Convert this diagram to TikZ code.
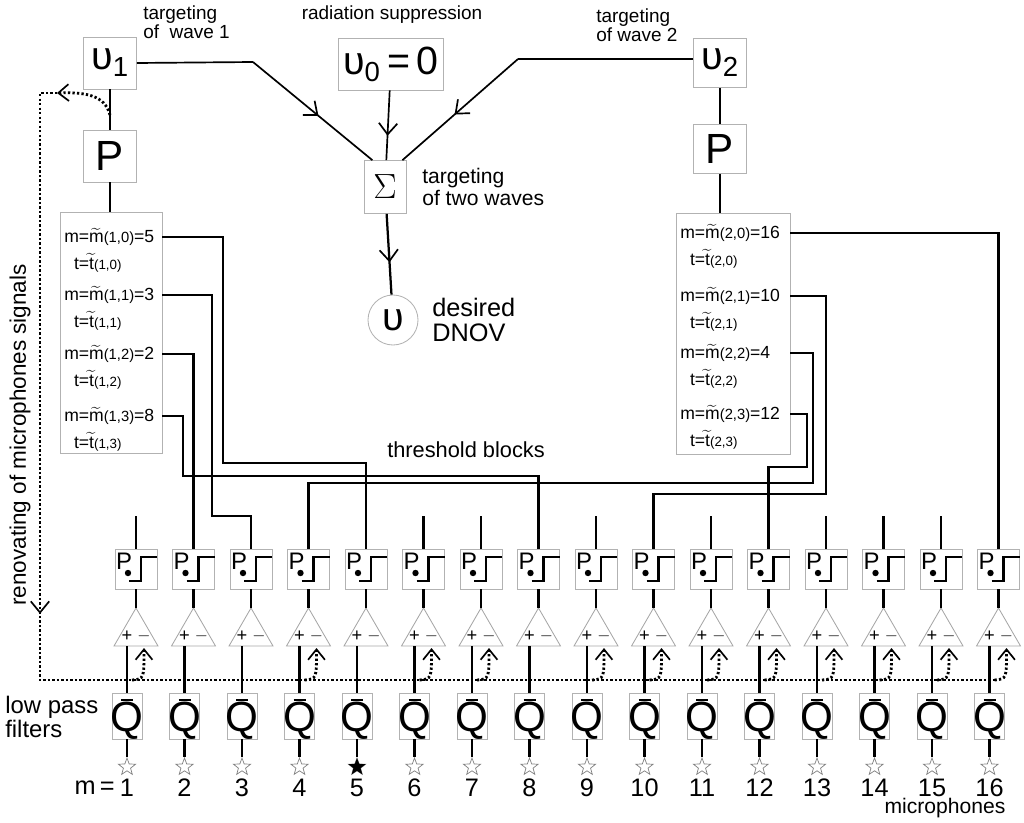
\documentclass[tikz,border=0pt]{standalone}
\usepackage{amsmath}
\usepackage{fontspec}
\setmainfont{Liberation Sans}
\usetikzlibrary{arrows.meta, shapes.geometric, decorations.markings}

\newcommand{\fs}[1]{\fontsize{#1}{#1}\selectfont}
\newcommand{\mt}[2]{m=$\widetilde{\text{m}}${\fs{10.5}(#1)}=#2}
\newcommand{\tv}[1]{\ \ t=$\widetilde{\text{t}}${\fs{9.5}(#1)}}

\begin{document}
\begin{tikzpicture}[
    x=0.025cm, y=-0.025cm,
    box/.style={rectangle, draw=gray!60, line width=0.6pt, inner sep=0pt},
    wire/.style={line width=1.6pt},
    line/.style={line width=1.2pt},
    dots/.style={line width=2pt, dash pattern=on 1.6pt off 1.6pt},
    barb/.style={-{Straight Barb[length=2.6mm, width=4.2mm, line width=1.2pt]}},
    midarrow/.style={postaction={decorate}, decoration={markings,
        mark=at position #1 with {\arrow{Straight Barb[length=2.8mm, width=4.6mm, line width=1.2pt]}}}},
    txt/.style={font=\fs{13.5}, align=left, inner sep=0pt},
    mtxt/.style={font=\fs{12.5}, anchor=west, inner sep=0pt}
]
\useasboundingbox (0,0) rectangle (1024,822);

% Top blocks
\node[box, minimum width=1.32cm, minimum height=1.3cm, font=\fs{28}] (u1) at (110,63) {υ\textsubscript{1}};
\node[box, minimum width=1.32cm, minimum height=1.3cm, font=\fs{30}] (p1) at (110,156) {P};
\node[box, minimum width=2.62cm, minimum height=1.3cm, font=\fs{28}] (u0) at (391,64) {υ\textsubscript{0}\,=\,0};
\node[box, minimum width=1.05cm, minimum height=1.32cm, font=\fs{36}] (sig) at (385,187) {$\Sigma$};
\node[circle, draw=gray!60, line width=0.6pt, minimum size=1.25cm, inner sep=0pt, font=\fs{28}] (u) at (393,320) {υ};
\node[box, minimum width=1.32cm, minimum height=1.22cm, font=\fs{28}] (u2) at (720,63) {υ\textsubscript{2}};
\node[box, minimum width=1.32cm, minimum height=1.22cm, font=\fs{30}] (p2) at (720,149) {P};

% Labels
\node[txt, anchor=north west] (lw1) at (143,5) {targeting\\of\ \ wave 1};
\node[txt] (lrs) at (392,15) {radiation suppression};
\node[txt, anchor=north west] (lw2) at (596,8) {targeting\\of wave 2};
\node[txt, anchor=west, font=\fs{15}] (ltw) at (422,187) {targeting\\of two waves};
\node[txt, anchor=west, font=\fs{18}] (ldn) at (432,320) {desired\\DNOV};
\node[txt, font=\fs{15.5}] (lth) at (466,450) {threshold blocks};
\node[txt, font=\fs{16}, rotate=90] (lren) at (20,435) {renovating of microphones signals};
\node[txt, anchor=west, font=\fs{17}] (llp) at (5,717) {low pass\\filters};
\node[txt, font=\fs{15}] (lmic) at (945,808) {microphones};
\node[txt, anchor=east, font=\fs{18}] (lm) at (115,788) {m\,=};

% Tables of the two waves
\node[box, minimum width=2.55cm, minimum height=6.02cm] (lbox) at (111,332.5) {};
\node[box, minimum width=2.85cm, minimum height=6.02cm] (rbox) at (733,333.5) {};
\foreach \k/\y/\v in {0/237/5, 1/295/3, 2/354/2, 3/416/8} {
  \node[mtxt] (lm\k) at (64,\y) {\mt{1,\k}{\v}};
  \node[mtxt] (lt\k) at (64,\y+26) {\tv{1,\k}};
}
\foreach \k/\y/\v in {0/233/16, 1/296/10, 2/353/4, 3/414/12} {
  \node[mtxt] (rm\k) at (680,\y) {\mt{2,\k}{\v}};
  \node[mtxt] (rt\k) at (680,\y+26) {\tv{2,\k}};
}

% Columns
\foreach \i in {1,...,16} {
  \pgfmathsetmacro\cx{136+(\i-1)*57.5}
  \node[box, minimum width=1.05cm, minimum height=1cm] (th\i) at (\cx,569) {};
  \node[font=\fs{17}, inner sep=0pt] (tp\i) at (\cx-12,561) {P};
  \fill (\cx-8,573) circle (3.2);
  \draw[wire] (\cx-7,581) -- (\cx+5,581) -- (\cx+5,557) -- (\cx+21,557);
  \draw[line width=0.6pt, draw=gray!70] (\cx,608) -- (\cx+22,646) -- (\cx-22,646) -- cycle;
  \coordinate (ap\i) at (\cx,608);
  \coordinate (ip\i) at (\cx-9,646);
  \coordinate (im\i) at (\cx+8,648);
  \node[font=\fs{13}, inner sep=0pt] at (\cx-9,636) {+};
  \node[font=\fs{13}, inner sep=0pt] at (\cx+8,636) {$-$};
  \node[box, minimum width=0.75cm, minimum height=1.15cm] (q\i) at (\cx-9,716) {};
  \node[font=\fs{30}, inner sep=0pt] (qt\i) at (\cx-9,721) {Q};
  \draw[wire] (\cx-15,700) -- (\cx-3,700);
  \node[star, star points=5, star point ratio=2.4, draw=gray, fill=white, line width=0.5pt,
        minimum size=0.45cm, inner sep=0pt] (st\i) at (\cx-9,767) {};
  \node[font=\fs{18}, inner sep=0pt] (n\i) at (\cx-9,788) {\i};
  \draw[wire] (th\i.south) -- (ap\i);
  \draw[wire] (q\i.north) -- (ip\i);
  \draw[wire] (q\i.south) -- (st\i.north);
}
\node[star, star points=5, star point ratio=2.4, fill=black, minimum size=0.45cm, inner sep=0pt] (st5b) at (st5) {};

% Summing part
\draw[wire] (u1) -- (p1);
\draw[wire] (p1) -- (p1 |- lbox.north);
\draw[wire] (u2) -- (p2);
\draw[wire] (p2) -- (p2 |- rbox.north);
\draw[line] (u1.east) -- (253,62);
\draw[line, midarrow=0.55] (253,62) -- ([xshift=0.22cm]sig.north west);
\draw[line] (u2.west |- 0,59) -- (518,59);
\draw[line, midarrow=0.55] (518,59) -- ([xshift=-0.1cm]sig.north east);
\draw[line, midarrow=0.65] (u0) -- (sig);
\draw[wire, midarrow=0.6] (sig) -- (u);

% Threshold wiring
\draw[wire] (lbox.east |- lm0) -| (223,463) -| (th5.north);
\draw[wire] (lbox.east |- lm1) -| (212,516) -| (th3.north);
\draw[wire] (lbox.east |- lm2) -| (th2.north);
\draw[wire] (lbox.east |- lm3) -| (183,476) -| (th8.north);
\draw[wire] (rbox.east |- rm0) -| (th16.north);
\draw[wire] (rbox.east |- rm1) -| (826,494) -| (th10.north);
\draw[wire] (rbox.east |- rm2) -| (813,483) -| (th4.north);
\draw[wire] (rbox.east |- rm3) -| (807,467) -| (th12.north);
\foreach \i in {1,6,7,9,11,13,14,15}
  \draw[wire] (th\i.north) -- ++(0,-33);

% Renovating loop
\coordinate (fb) at (40,93);
\draw[dots, barb] (110,115) .. controls (105,95) and (85,92) .. (57,93);
\draw[dots, midarrow=0.345] (57,93) -- (fb) -- (40,680) -- (995,680);
\foreach \i in {1,4,6,7,9,10,11,12,13,14,15,16} {
  \pgfmathsetmacro\cx{136+(\i-1)*57.5}
  \draw[dots, barb] (\cx-4,680) .. controls (\cx+8,679) .. (im\i);
}

\end{tikzpicture}
\end{document}
